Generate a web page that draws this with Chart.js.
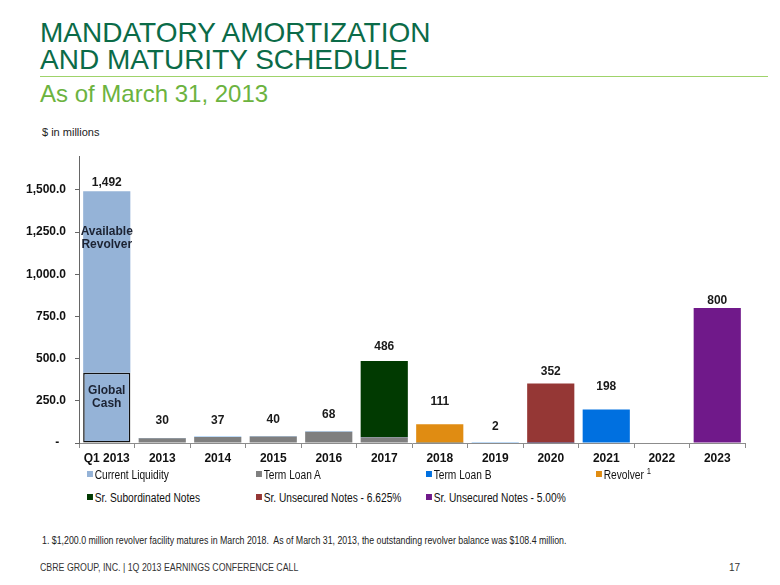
<!DOCTYPE html>
<html>
<head>
<meta charset="utf-8">
<script src="https://cdn.jsdelivr.net/npm/chart.js@4.4.1/dist/chart.umd.min.js"></script>
<style>
  html, body { margin: 0; padding: 0; background: #fff; }
  body { width: 780px; height: 585px; position: relative; overflow: hidden; font-family: "Liberation Sans", Arial, sans-serif; }
  .title { position: absolute; left: 40px; top: 19px; font-size: 28px; line-height: 27px; color: #0b6b48; }
  .rule { position: absolute; left: 40px; top: 76px; width: 728px; height: 1px; background: #9fd36a; }
  .subtitle { position: absolute; left: 40px; top: 80px; font-size: 24px; line-height: 28px; color: #6cb33f; }
  .units { position: absolute; left: 42px; top: 126px; font-size: 11px; color: #222; }
  #chartWrap { position: absolute; left: 20px; top: 140px; width: 740px; height: 330px; }
  .narrow { transform-origin: 0 50%; white-space: nowrap; }
  .legend-item { position: absolute; font-size: 12px; color: #111; line-height: 14px; transform: scaleX(0.85); }
  .legend-item i { display: inline-block; width: 7px; height: 6px; margin-right: 2px; vertical-align: 2px; }
  .legend-item sup { font-size: 9px; vertical-align: 5px; line-height: 0; }
  .note { position: absolute; left: 42px; top: 535px; font-size: 10px; color: #222; transform: scaleX(0.88); }
  .footer { position: absolute; left: 40px; top: 562px; font-size: 10px; color: #333; transform: scaleX(0.88); }
  .page { position: absolute; left: 729px; top: 562px; font-size: 10px; color: #333; }
</style>
</head>
<body>
<div class="title">MANDATORY AMORTIZATION<br>AND MATURITY SCHEDULE</div>
<div class="rule"></div>
<div class="subtitle">As of March 31, 2013</div>
<div class="units">$ in millions</div>
<div id="chartWrap"><canvas id="debtChart" width="740" height="330"></canvas></div>
<div id="legend"></div>
<div class="note narrow">1. $1,200.0 million revolver facility matures in March 2018.&nbsp; As of March 31, 2013, the outstanding revolver balance was $108.4 million.</div>
<div class="footer narrow">CBRE GROUP, INC. | 1Q 2013 EARNINGS CONFERENCE CALL</div>
<div class="page">17</div>

<script>
// categories and series ($ in millions)
const categories = ['Q1 2013', '2013', '2014', '2015', '2016', '2017', '2018', '2019', '2020', '2021', '2022', '2023'];
const globalCash         = [416, null, null, null, null, null, null, null, null, null, null, null];
const availableRevolver  = [1076, null, null, null, null, null, null, null, null, null, null, null];
const termLoanA          = [null, 28, 35, 38, 66, 34, null, null, null, null, null, null];
const termLoanB          = [null, 2, 2, 2, 2, 2, 2, 2, 2, 198, null, null];
const revolver           = [null, null, null, null, null, null, 109, null, null, null, null, null];
const srSubNotes         = [null, null, null, null, null, 450, null, null, null, null, null, null];
const srUnsecured6625    = [null, null, null, null, null, null, null, null, 350, null, null, null];
const srUnsecured500     = [null, null, null, null, null, null, null, null, null, null, null, 800];
const yTicks = [0, 250, 500, 750, 1000, 1250, 1500];

// how far (px) each total label sits above its bar
const labelLift = [9, 17, 16, 17, 17, 14, 23, 16, 12, 23, 0, 7];

const colors = {
    liquidity: '#95b3d7',
    tla: '#7f7f7f',
    tlb: '#0070e0',
    revolver: '#e08c12',
    sub: '#013a01',
    uns6625: '#953735',
    uns500: '#70198a'
};

const datasets = [
    { label: 'Current Liquidity', data: globalCash, backgroundColor: colors.liquidity, borderColor: '#111', borderWidth: 1.5, borderSkipped: false },
    { label: 'Current Liquidity', data: availableRevolver, backgroundColor: colors.liquidity, hideLegend: true },
    { label: 'Term Loan A', data: termLoanA, backgroundColor: colors.tla },
    { label: 'Term Loan B', data: termLoanB, backgroundColor: colors.tlb },
    { label: 'Revolver', data: revolver, backgroundColor: colors.revolver, sup: '1' },
    { label: 'Sr. Subordinated Notes', data: srSubNotes, backgroundColor: colors.sub },
    { label: 'Sr. Unsecured Notes - 6.625%', data: srUnsecured6625, backgroundColor: colors.uns6625 },
    { label: 'Sr. Unsecured Notes - 5.00%', data: srUnsecured500, backgroundColor: colors.uns500 }
].map(ds => Object.assign({ stack: 'debt', barPercentage: 0.85, categoryPercentage: 1.0 }, ds));

const labelPlugin = {
    id: 'barLabels',
    afterDatasetsDraw(chart) {
        const ctx = chart.ctx;
        const xs = chart.scales.x;
        const ys = chart.scales.y;
        ctx.save();
        ctx.font = 'bold 12px "Liberation Sans", Arial, sans-serif';
        ctx.fillStyle = '#1a1a1a';
        ctx.textAlign = 'center';
        ctx.textBaseline = 'middle';
        categories.forEach((cat, i) => {
            const total = chart.data.datasets.reduce((s, ds) => s + (ds.data[i] || 0), 0);
            if (!total) return;
            const x = xs.getPixelForValue(i);
            const y = ys.getPixelForValue(total) - labelLift[i];
            ctx.fillText(Math.round(total).toLocaleString('en-US'), x, y);
        });

        // text inside the liquidity bar
        ctx.fillStyle = '#1c2333';
        const cashBar = chart.getDatasetMeta(0).data[0];
        const availBar = chart.getDatasetMeta(1).data[0];
        ctx.fillText('Global', cashBar.x, cashBar.y + 18);
        ctx.fillText('Cash', cashBar.x, cashBar.y + 31);
        ctx.fillText('Available', availBar.x, availBar.y + 40);
        ctx.fillText('Revolver', availBar.x, availBar.y + 53);
        ctx.restore();
    }
};

new Chart(document.getElementById('debtChart'), {
    type: 'bar',
    data: { labels: categories, datasets: datasets },
    options: {
        responsive: false,
        animation: false,
        layout: { padding: { top: 14, right: 15, left: 0, bottom: 0 } },
        plugins: {
            legend: { display: false },
            tooltip: { enabled: false }
        },
        scales: {
            x: {
                stacked: true,
                grid: { offset: true, drawOnChartArea: false, tickLength: 5, color: '#8c8c8c' },
                border: { color: '#8c8c8c' },
                ticks: {
                    color: '#111',
                    padding: 3,
                    font: { family: '"Liberation Sans", Arial, sans-serif', size: 12, weight: 'bold' }
                },
                afterFit(scale) { scale.height = 27; }
            },
            y: {
                stacked: true,
                min: 0,
                max: 1700,
                grid: { drawOnChartArea: false, tickLength: 4, color: '#666' },
                border: { color: '#666' },
                afterBuildTicks(scale) { scale.ticks = yTicks.map(v => ({ value: v })); },
                ticks: {
                    color: '#111',
                    padding: 9,
                    font: { family: '"Liberation Sans", Arial, sans-serif', size: 12, weight: 'bold' },
                    callback: v => v === 0 ? '-  ' : v.toLocaleString('en-US', { minimumFractionDigits: 1, maximumFractionDigits: 1 })
                },
                afterFit(scale) { scale.width = 59; }
            }
        }
    },
    plugins: [labelPlugin]
});

// legend: four columns, two rows
const legendCols = [87, 256, 426, 596];
const legendRows = [468, 491];
const legendEl = document.getElementById('legend');
datasets.filter(ds => !ds.hideLegend).forEach((ds, n) => {
    const item = document.createElement('div');
    item.className = 'legend-item narrow';
    item.style.left = legendCols[n % 4] + 'px';
    item.style.top = legendRows[Math.floor(n / 4)] + 'px';
    item.innerHTML = '<i style="background:' + ds.backgroundColor + '"></i>' + ds.label +
        (ds.sup ? ' <sup>' + ds.sup + '</sup>' : '');
    legendEl.appendChild(item);
});
</script>
</body>
</html>
